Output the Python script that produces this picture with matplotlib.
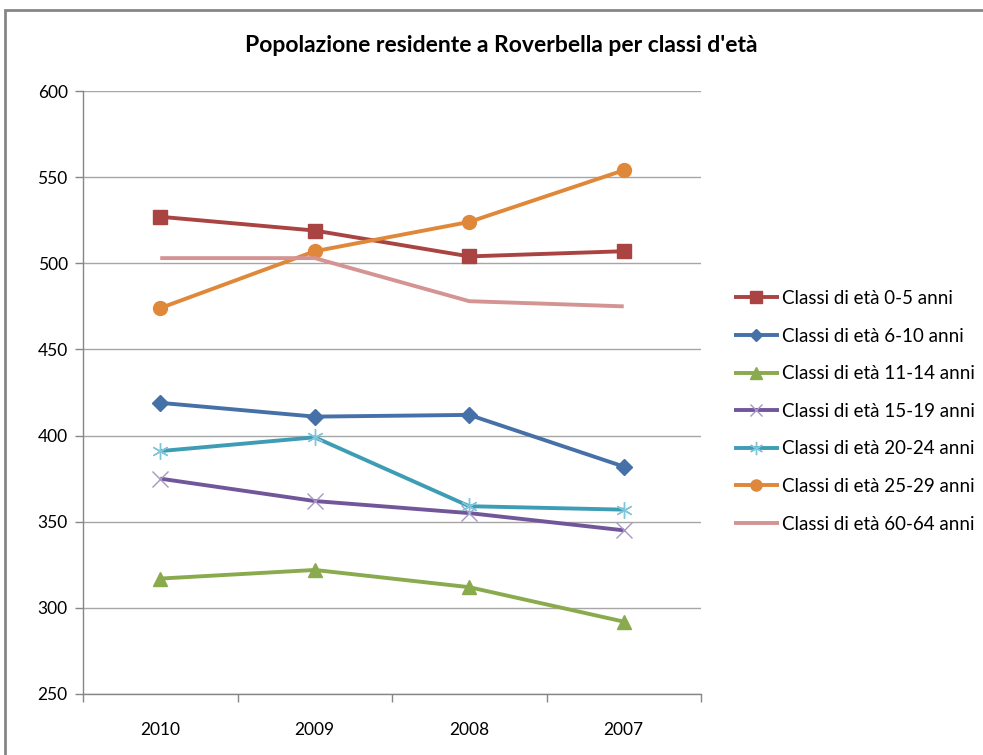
import matplotlib
matplotlib.use('Agg')
import matplotlib.pyplot as plt
from matplotlib.patches import Rectangle

plt.rcParams['font.family'] = ['Lato', 'DejaVu Sans']

# dati
anni = ['2010', '2009', '2008', '2007']
classi = ['Classi di età 0-5 anni', 'Classi di età 6-10 anni', 'Classi di età 11-14 anni',
          'Classi di età 15-19 anni', 'Classi di età 20-24 anni', 'Classi di età 25-29 anni',
          'Classi di età 60-64 anni']
eta_0_5 = [527, 519, 504, 507]
eta_6_10 = [419, 411, 412, 382]
eta_11_14 = [317, 322, 312, 292]
eta_15_19 = [375, 362, 355, 345]
eta_20_24 = [391, 399, 359, 357]
eta_25_29 = [474, 507, 524, 554]
eta_60_64 = [503, 503, 478, 475]
yticks = [250, 300, 350, 400, 450, 500, 550, 600]

serie = [eta_0_5, eta_6_10, eta_11_14, eta_15_19, eta_20_24, eta_25_29, eta_60_64]
colori = ['#A94442', '#4670A8', '#8AAA4E', '#72569A', '#3E9DB5', '#E0883A', '#D49494']
marker = ['s', 'D', '^', 'x', (6, 2, 0), 'o', None]
msize = [10, 8, 10, 11, 12, 10, 0]
mcol = ['#A94442', '#4670A8', '#8AAA4E', '#A896C4', '#7FC6DA', '#E0883A', '#D49494']

fig = plt.figure(figsize=(9.83, 7.55), dpi=100)
fig.patches.append(Rectangle((5/983, -0.1), 1.2, 1.1 - 10/755, transform=fig.transFigure,
                             fill=False, edgecolor='#868686', linewidth=2))

ax = fig.add_axes([83/983, 1 - 694/755, 618/983, 603/755])
x = list(range(len(anni)))
for s, c, m, ms, mc, lab in zip(serie, colori, marker, msize, mcol, classi):
    ax.plot(x, s, color=c, lw=2.8, marker=m, markersize=ms, markerfacecolor=mc,
            markeredgecolor=mc, markeredgewidth=1,
            label=lab, solid_capstyle='butt')

ax.set_xlim(-0.5, 3.5)
ax.set_ylim(250, 600)
ax.set_yticks(yticks)
ax.set_xticks(x)
ax.set_xticklabels(anni)
ax.set_xticks([-0.5, 0.5, 1.5, 2.5, 3.5], minor=True)
ax.tick_params(axis='x', which='major', length=0, pad=20, labelsize=12.5)
ax.tick_params(axis='x', which='minor', length=6, color='#868686', width=1)
ax.tick_params(axis='y', length=6, color='#868686', width=1, labelsize=12.5, pad=5)
ax.grid(axis='y', color='#A6A6A6', lw=1)
ax.set_axisbelow(True)
for sp in ['top', 'right']:
    ax.spines[sp].set_visible(False)
for sp in ['left', 'bottom']:
    ax.spines[sp].set_color('#868686')
    ax.spines[sp].set_linewidth(1)

fig.text(501/983, 1 - 45/755, "Popolazione residente a Roverbella per classi d'età",
         ha='center', va='center', fontsize=16.5, fontweight='bold')

h, l = ax.get_legend_handles_labels()
fig.legend(h, l, loc='upper left', bbox_to_anchor=(717/983, 1 - 273/755), frameon=False,
           fontsize=13.5, handlelength=2.4, handletextpad=0.15, labelspacing=1.1, markerscale=0.8)

fig.savefig('out.png', dpi=100)
